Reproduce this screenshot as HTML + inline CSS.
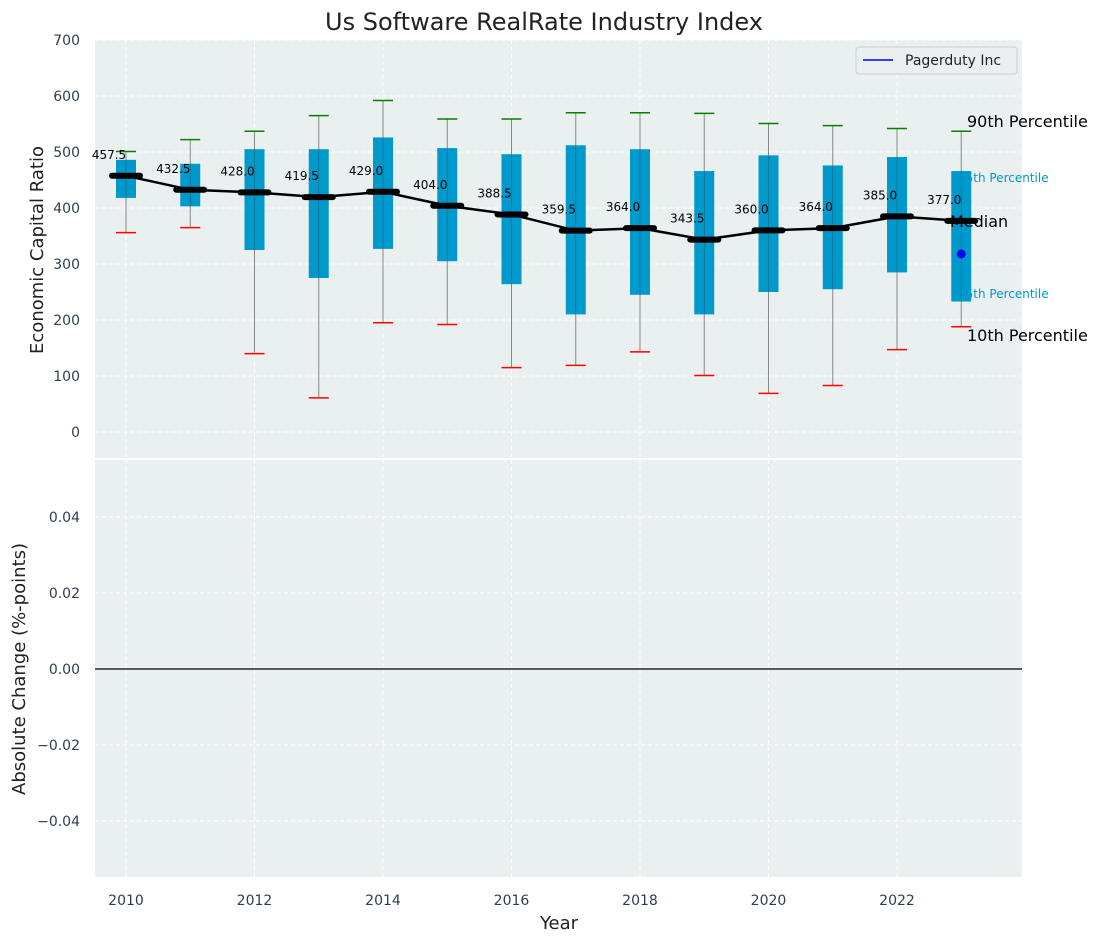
<!DOCTYPE html>
<html><head><meta charset="utf-8"><style>
body{margin:0;background:#fff;font-family:"Liberation Sans","DejaVu Sans",sans-serif}
svg text{font-family:"DejaVu Sans","Liberation Sans",sans-serif}
</style></head><body>
<svg id="c" width="1102" height="942" xmlns="http://www.w3.org/2000/svg"></svg>
<script>
const years=[2010,2011,2012,2013,2014,2015,2016,2017,2018,2019,2020,2021,2022,2023];
const medians=[457.5,432.5,428.0,419.5,429.0,404.0,388.5,359.5,364.0,343.5,360.0,364.0,385.0,377.0];
const q1=[418,403,325,275,327,305,264,210,245,210,250,255,285,233];
const q3=[486,479,505,505,526,507,496,512,505,466,494,476,491,466];
const p10=[356,365,140,61,195,192,115,119,143,101,69,83,147,188];
const p90=[501,522,537,565,592,559,559,570,570,569,551,547,542,537];
const company=[318];
const yTicksTop=[0,100,200,300,400,500,600,700];
const yTicksBot=[-0.04,-0.02,0.00,0.02,0.04];
const xTicks=[2010,2012,2014,2016,2018,2020,2022];

const NS="http://www.w3.org/2000/svg";
const svg=document.getElementById('c');
function el(t,a,p){const e=document.createElementNS(NS,t);for(const k in a)e.setAttribute(k,a[k]);(p||svg).appendChild(e);return e;}
const X=y=>126+(y-2010)*64.25;
const Y=v=>432-v*0.56;
const Y2=v=>669-v*3800;
const L=95,R=1022;

// backgrounds
let bg=el('rect',{x:L,y:40,width:R-L,height:418,fill:'#eaeff0'});

let bg2=el('rect',{x:L,y:460,width:R-L,height:417,fill:'#eaeff0'});


// grids
xTicks.forEach(t=>{
  el('line',{x1:X(t),x2:X(t),y1:40,y2:458,stroke:'#fff','stroke-dasharray':'4,3'});
  el('line',{x1:X(t),x2:X(t),y1:460,y2:877,stroke:'#fff','stroke-dasharray':'4,3'});
  const tx=el('text',{x:X(t),y:905,'text-anchor':'middle','font-size':14,fill:'#2f3e4e'});tx.textContent=t;
  
});
yTicksTop.forEach(t=>{
  el('line',{x1:L,x2:R,y1:Y(t),y2:Y(t),stroke:'#fff','stroke-dasharray':'4,3'});
  const tx=el('text',{x:80,y:Y(t)+5,'text-anchor':'end','font-size':14,fill:'#2f3e4e'});tx.textContent=t;
  
});
yTicksBot.forEach(t=>{
  el('line',{x1:L,x2:R,y1:Y2(t),y2:Y2(t),stroke:'#fff','stroke-dasharray':'4,3'});
  const tx=el('text',{x:80,y:Y2(t)+5,'text-anchor':'end','font-size':14,fill:'#2f3e4e'});
  tx.textContent=(t<0?'\u2212':'')+Math.abs(t).toFixed(2);
  
});
el('line',{x1:L,x2:R,y1:Y2(0),y2:Y2(0),stroke:'#000','stroke-width':1.2});

// annotations behind boxes
function txt(s,x,y,sz,fill,name){const t=el('text',{x:x,y:y,'font-size':sz,fill:fill});t.textContent=s;return t;}
txt('75th Percentile',958,182,12,'#0099cc','label-75th');
txt('25th Percentile',958,298,12,'#0099cc','label-25th');

// boxes
years.forEach((yr,i)=>{
  const x=X(yr);
  const g=el('g',{});
  el('line',{x1:x,x2:x,y1:Y(p90[i]),y2:Y(p10[i]),stroke:'#888','stroke-width':1},g);
  el('rect',{x:x-10,y:Y(q3[i]),width:20,height:Y(q1[i])-Y(q3[i]),fill:'#0099cc'},g);
  el('line',{x1:x,x2:x,y1:Y(q3[i]),y2:Y(q1[i]),stroke:'#333','stroke-width':0.6,opacity:0.5},g);
  el('line',{x1:x-10,x2:x+10,y1:Y(p90[i]),y2:Y(p90[i]),stroke:'green','stroke-width':1.5},g);
  el('line',{x1:x-10,x2:x+10,y1:Y(p10[i]),y2:Y(p10[i]),stroke:'red','stroke-width':1.5},g);
  el('line',{x1:x-14,x2:x+14,y1:Y(medians[i]),y2:Y(medians[i]),stroke:'#000','stroke-width':6,'stroke-linecap':'round'},g);
});
// median line
const ml=el('polyline',{points:years.map((y,i)=>X(y)+','+Y(medians[i])).join(' '),fill:'none',stroke:'#000','stroke-width':2.5});

years.forEach((yr,i)=>{
  const t=el('text',{x:X(yr)-17,y:Y(medians[i])-17,'text-anchor':'middle','font-size':12,fill:'#000'});t.textContent=medians[i].toFixed(1);
  
});
const cp=el('circle',{cx:X(2023),cy:Y(company[0]),r:4.5,fill:'blue'});


txt('90th Percentile',967,127,16,'#000','label-90th');
txt('Median',950,227,16,'#000','label-median');
txt('10th Percentile',967,341,16,'#000','label-10th');

// legend
const lg=el('g',{});
el('rect',{x:856,y:47,width:161,height:27,rx:3,fill:'#eaeff0',stroke:'#ccc'},lg);
el('line',{x1:863,x2:893,y1:60,y2:60,stroke:'blue','stroke-width':1.5},lg);
const lt=el('text',{x:905,y:65,'font-size':14,fill:'#222'},lg);lt.textContent='Pagerduty Inc';

// titles
const ti=el('text',{x:544,y:30,'text-anchor':'middle','font-size':24,fill:'#222'});ti.textContent='Us Software RealRate Industry Index';

const xl=el('text',{x:559,y:929,'text-anchor':'middle','font-size':18,fill:'#222'});xl.textContent='Year';

const yl=el('text',{x:43,y:250,'text-anchor':'middle','font-size':18,fill:'#222',transform:'rotate(-90 43 250)'});yl.textContent='Economic Capital Ratio';

const yl2=el('text',{x:25,y:669,'text-anchor':'middle','font-size':18,fill:'#222',transform:'rotate(-90 25 669)'});yl2.textContent='Absolute Change (%-points)';

</script>
</body></html>
